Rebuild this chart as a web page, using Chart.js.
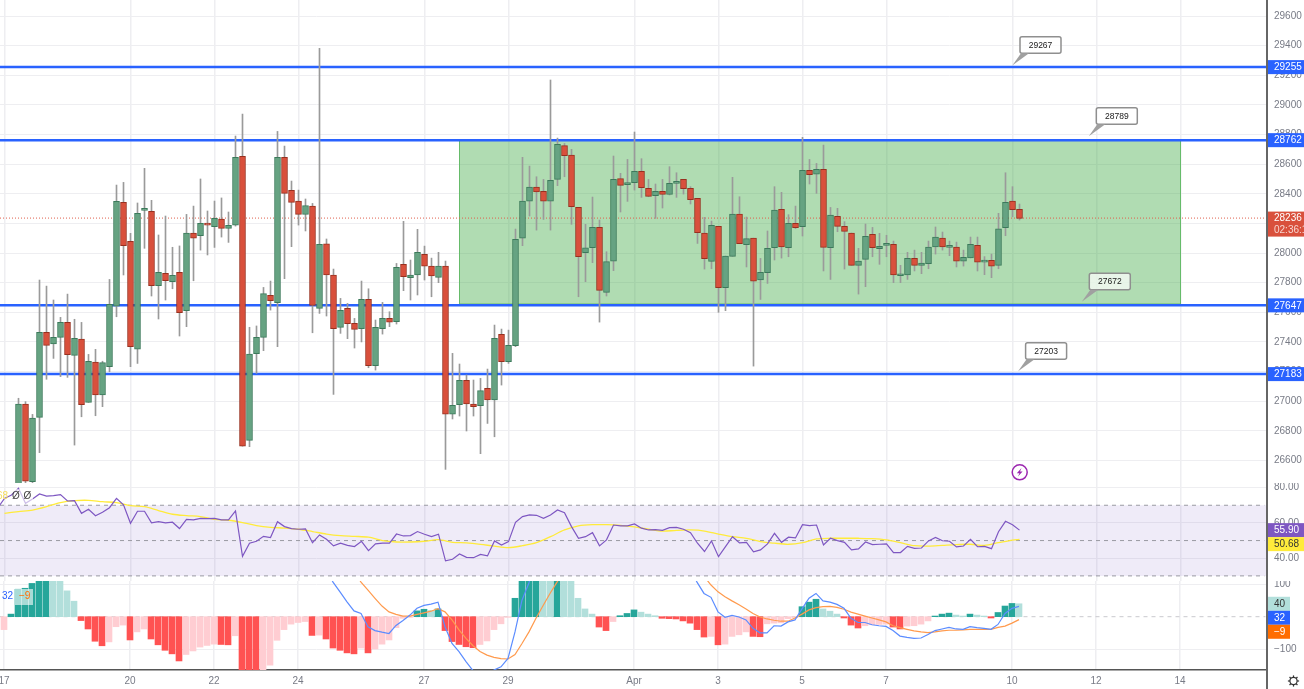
<!DOCTYPE html>
<html>
<head>
<meta charset="utf-8">
<style>
  html, body { margin: 0; padding: 0; background: #fff; overflow: hidden; }
  canvas { position: absolute; left: 0; }
  #axisLine { position: absolute; left: 1266px; top: 0; width: 1.5px; height: 689px; background: #666; }
</style>
<script src="https://cdn.jsdelivr.net/npm/chart.js@4"></script>
</head>
<body>
<canvas id="priceCanvas" width="1304" height="483" style="top:0"></canvas>
<canvas id="rsiCanvas" width="1304" height="98" style="top:483px"></canvas>
<canvas id="macdCanvas" width="1304" height="108" style="top:581px"></canvas>
<div id="axisLine"></div>
<script>
// candles are 4h bars, index 0 is the first one on screen
const opens = [26400,26981,26457,26891,27465,27386,27431,27532,27309,27420,
  26992,27264,27042,27233,27642,28342,28079,27352,28288,28281,
  27780,27863,27807,27870,27611,28135,28117,28200,28178,28230,
  28167,28189,28653,26736,27321,27431,27714,27665,28646,28423,
  28351,28261,28317,27627,28063,27852,27498,27627,27525,27490,
  27687,27240,27490,27559,27537,27924,27834,27852,27991,27912,
  27836,27912,26913,26977,27141,26981,26970,27087,27008,27451,
  27267,27375,28101,28351,28446,28416,28351,28497,28725,28662,
  28308,28002,28036,28173,27735,27946,28502,28461,28475,28551,
  28437,28387,28416,28396,28470,28497,28437,28369,28135,27944,
  28180,27766,27978,28263,28056,28101,27818,27867,28036,28295,
  28036,28200,28178,28558,28533,28565,28036,28248,28180,28135,
  27917,27957,28126,28029,28052,28059,27847,27852,27964,27917,
  27928,28041,28101,28038,28041,27946,27967,28052,27939,27951,
  27917,28171,28351,28295];
const closes = [26981,26460,26887,27465,27377,27431,27532,27314,27424,26977,
  27269,27042,27260,27654,28349,28050,27368,28268,28295,27780,
  27870,27814,27850,27597,28135,28101,28200,28189,28234,28167,
  28187,28646,26697,27318,27431,27726,27678,28646,28403,28342,
  28261,28320,27647,28059,27852,27490,27613,27523,27485,27687,
  27240,27498,27559,27534,27903,27841,27852,28005,27912,27845,
  27912,26913,26972,27141,26981,26963,27071,27008,27424,27267,
  27377,28093,28351,28446,28412,28351,28491,28734,28657,28313,
  27975,28036,28173,27748,27942,28497,28457,28475,28551,28441,
  28383,28416,28396,28470,28484,28434,28360,28137,27962,28187,
  27766,27980,28263,28063,28097,27811,27870,28032,28290,28041,
  28200,28171,28558,28529,28565,28038,28257,28180,28146,27917,
  27946,28113,28036,28045,28059,27852,27854,27964,27917,27933,
  28041,28108,28041,28048,27946,27971,28059,27939,27951,27912,
  28164,28342,28293,28234];
const highs = [27020,26997,26911,27818,27777,27683,27566,27723,27553,27532,
  27316,27350,27270,27822,28459,28477,28133,28338,28572,28356,
  28122,28250,28039,28048,28261,28317,28500,28284,28351,28372,
  28277,28790,28938,27499,27508,27768,27811,28821,28722,28486,
  28425,28365,28335,29382,28095,27892,27694,27660,27559,27811,
  27759,27548,27667,27604,27930,28214,27953,28160,28047,27966,
  28005,27946,27323,27251,27177,27143,27154,27217,27514,27487,
  27480,28162,28646,28587,28515,28497,29168,28776,28740,28700,
  28308,28194,28378,28223,28009,28655,28538,28632,28817,28637,
  28497,28466,28497,28583,28542,28497,28448,28369,28241,28216,
  28180,27980,28511,28380,28243,28101,27964,28149,28448,28410,
  28259,28317,28781,28632,28605,28729,28308,28302,28212,28135,
  28032,28196,28173,28133,28120,28081,27917,28005,28020,28005,
  28081,28176,28142,28081,28074,28020,28108,28108,27976,27993,
  28268,28542,28448,28331];
const lows = [26380,26430,26450,26653,27148,27289,27166,27161,26704,26895,
  26992,26902,26963,27199,27570,27852,27233,27255,28032,27710,
  27555,27683,27759,27440,27503,27813,28020,27987,28038,28108,
  28072,28182,26697,26693,27188,27341,27615,27368,27827,28043,
  28189,28149,27462,27593,27575,27046,27458,27422,27359,27400,
  27226,27210,27453,27503,27521,27746,27683,27717,27818,27705,
  27800,26540,26880,26900,26799,26900,26646,26850,26760,27109,
  27255,27368,28050,28250,28155,28227,28155,28455,28515,28194,
  27705,27807,27935,27534,27710,27881,28277,28349,28425,28376,
  28380,28234,28304,28392,28376,28398,28331,28065,27892,27894,
  27600,27611,27978,28063,27906,27237,27687,27795,27953,27966,
  27975,28165,28115,28466,28403,27879,27822,28144,27892,27917,
  27723,27773,27975,27924,27975,27800,27800,27822,27879,27861,
  27894,27993,28020,27982,27906,27912,27967,27879,27854,27834,
  27894,28117,28245,28223];

// horizontal levels, the callouts sitting on them and the green range box
const levelValues = [29255, 28762, 27647, 27183];
const calloutValues = [29267, 28789, 27672, 27203];
const calloutCandles = [142, 152.9, 151.9, 142.8];
const boxCandles = [63, 166];
const boxPrices = [28762, 27656];
const lastPrice = 28236;
const lastCountdown = "02:36:11";

// RSI starts at candle -3
const rsiStart = -3;
const rsiValues = [68.3,73.9,75.8,79.6,71.1,73.5,76.4,75.2,75.4,76.0,72.4,72.6,65.4,67.7,64.1,66.0,68.6,73.9,70.2,59.8,
  66.6,66.6,60.0,60.7,60.0,60.4,56.8,62.0,61.7,62.6,62.4,62.6,61.7,61.7,66.8,41.1,48.5,49.6,52.4,51.7,
  60.7,57.9,56.8,56.4,56.6,48.8,53.2,50.7,47.0,48.5,47.3,46.6,49.6,44.3,48.1,48.5,48.5,53.7,52.6,52.8,
  55.1,53.6,52.2,53.6,38.5,39.4,42.4,40.5,40.3,42.2,41.3,49.8,47.5,49.4,60.3,63.6,64.5,64.3,62.6,64.5,
  67.3,65.8,57.9,51.3,52.2,54.5,47.0,50.4,58.8,58.3,58.3,59.4,57.0,56.0,56.2,55.8,57.3,57.5,56.4,54.5,
  48.5,43.8,49.8,40.9,46.6,52.2,48.7,49.0,43.6,44.7,48.1,54.1,49.0,51.9,51.5,59.0,58.5,58.8,47.5,51.3,
  50.0,49.0,44.7,45.3,49.2,47.7,47.9,48.1,43.2,43.2,46.7,45.6,45.8,49.8,51.8,49.9,49.6,46.4,46.9,50.7,
  46.5,46.7,45.4,55.0,60.9,59.0,55.9];
// RSI average, read every second candle from -2
const rsiMaValues = [65.4,66.4,67.3,69.2,71.5,72.6,72.8,72.0,71.5,69.8,69.2,67.0,64.9,64.1,63.6,62.0,61.5,60.2,58.5,57.5,
  57.1,56.4,55.1,53.7,52.8,52.4,51.9,50.0,49.2,49.2,49.6,50.5,49.0,48.7,47.9,46.8,46.0,47.1,48.8,52.2,
  56.0,58.3,59.0,59.0,58.6,57.7,56.4,55.3,55.8,56.0,55.4,53.7,52.2,51.3,49.4,48.5,47.9,48.8,50.9,51.3,
  51.3,51.3,51.1,50.4,48.8,47.1,46.9,47.3,47.7,47.9,47.3,48.8,50.3];
const rsiMaLast = 50.68;
const rsiLevels = [70, 50, 30];
const rsiTicks = [80, 60, 40];

// MACD histogram starts at candle -2
const histStart = -2;
const histValues = [-40,8,85,88,103,118,120,115,110,80,48,-12,-38,-76,-90,-78,-31,-26,-72,-47,
  -38,-69,-87,-104,-115,-137,-117,-106,-94,-89,-85,-86,-87,-59,-170,-180,-190,-175,-150,-73,
  -40,-23,-18,-15,-58,-57,-69,-97,-104,-112,-115,-97,-112,-100,-85,-72,-34,-5,-2,18,
  23,19,24,-43,-77,-86,-93,-96,-86,-75,-40,-22,-2,57,130,150,170,160,140,150,
  130,110,57,24,8,-32,-43,-15,3,10,21,14,8,3,-5,-6,-7,-13,-20,-40,
  -63,-61,-87,-85,-61,-56,-47,-61,-62,-22,-20,-19,-6,-3,31,45,54,24,17,8,
  -4,-26,-35,-28,-25,-24,-23,-32,-38,-29,-28,-23,-13,2,8,11,5,2,8,5,
  2,-4,13,33,41,40];
// MACD line from candle 44, null where it is far above the pane
const macdStart = 44;
const macdValues = [150,107,77,46,18,10,-31,-43,-48,-52,-27,-12,5,26,35,39,45,-31,-83,-108,-139,-167,-190,-185,-165,-155,-129,-47,51,105,180,
  null,null,null,null,null,null,null,null,null,null,null,null,null,null,null,null,null,null,null,null,null,
  150,107,72,60,15,-2,4,-1,-10,-36,-50,-50,-28,-29,-16,-10,24,57,72,49,45,38,26,-5,-18,-18,-25,-28,-30,
  -43,-60,-64,-67,-66,-55,-43,-38,-33,-38,-39,-31,-34,-36,-39,-24,10,26,32];
// signal line from candle 48
const signalStart = 48;
const signalValues = [140,107,82,57,33,15,7,2,2,7,12,17,25,15,-10,-41,-67,-90,-108,-119,-126,-130,-131,-117,-83,-47,-5,34,72,107,145,
  null,null,null,null,null,null,null,null,null,null,null,null,null,null,null,null,null,null,null,
  125,98,77,62,49,37,24,10,-1,-7,-11,-14,-14,-4,8,21,28,31,32,29,23,14,8,2,-4,-10,
  -16,-28,-34,-39,-44,-47,-49,-47,-44,-42,-42,-41,-39,-39,-39,-39,-33,-29,-20,-9];
const macdTicks = [100, -100];

// axes
const dayTicks = [-2,16,28,40,58,70,88,100,112,124,142,154,166];
const dayLabels = ['17','20','22','24','27','29','Apr','3','5','7','10','12','14'];
const priceTicks = [26600,26800,27000,27200,27400,27600,27800,28000,28200,28400,28600,28800,29000,29200,29400,29600];

const UP = '#66a382', UP_EDGE = '#3c7a5b', DOWN = '#d9503c', DOWN_EDGE = '#98301f', WICK = '#9a9a9a';
const GRID = '#eeeef1', LABEL = '#787b86', BLUE = '#2962ff', ORANGE = '#ff6d00', PURPLE = '#7e57c2', YELLOW = '#ffeb3b';
const FONT = '"Liberation Sans", Arial, sans-serif';
const xMin = -18.5 / 7, xMax = (1266 - 18.5) / 7;

Chart.defaults.font.family = FONT;

function series(values, start, step) {
    return values.map((v, i) => ({ x: start + i * (step || 1), y: v }));
}

function xAxis(withLabels, shift) {
    return {
        type: 'linear',
        min: xMin + (shift || 0),
        max: xMax + (shift || 0),
        offset: false,
        afterBuildTicks: (s) => { s.ticks = dayTicks.map((v) => ({ value: v })); },
        afterFit: (s) => { s.height = withLabels ? 19 : 0; s.paddingLeft = 0; s.paddingRight = 0; },
        grid: { color: GRID, lineWidth: 1.5, drawTicks: false, offset: false },
        border: withLabels ? { display: true, color: '#555', width: 1.5 } : { display: false },
        ticks: {
            display: withLabels,
            autoSkip: false,
            maxRotation: 0,
            padding: 5,
            color: LABEL,
            font: { size: 10 },
            callback: (v) => dayLabels[dayTicks.indexOf(v)]
        }
    };
}

function yAxis(min, max, tickValues, fmt) {
    return {
        type: 'linear',
        position: 'right',
        min: min,
        max: max,
        afterBuildTicks: (s) => { s.ticks = tickValues.map((v) => ({ value: v })); },
        afterFit: (s) => { s.width = 38; s.paddingTop = 0; s.paddingBottom = 0; },
        grid: { color: GRID, lineWidth: 1, drawTicks: false },
        border: { display: false },
        ticks: { padding: 8, color: LABEL, font: { size: 10 }, callback: fmt }
    };
}

function baseOptions(scales) {
    return {
        responsive: false,
        animation: false,
        layout: { padding: 0, autoPadding: false },
        plugins: { legend: { display: false }, tooltip: { enabled: false } },
        elements: { point: { radius: 0 } },
        events: [],
        scales: scales
    };
}

function tag(ctx, y, right, bg, fg, text, height) {
    const h = height || 14;
    ctx.fillStyle = bg;
    ctx.fillRect(1267, y - h / 2, right - 1267, h);
    ctx.fillStyle = fg;
    ctx.font = '10px ' + FONT;
    ctx.textAlign = 'left';
    ctx.textBaseline = 'middle';
    ctx.fillText(text, 1274, y + 0.5);
}

function callout(ctx, x, y, text) {
    const left = x + 7.5, top = y - 28.5, w = 41, h = 16.5;
    ctx.strokeStyle = '#8f8f8f';
    ctx.lineWidth = 1.5;
    ctx.fillStyle = 'rgba(255,255,255,0.72)';
    ctx.beginPath();
    ctx.roundRect(left, top, w, h, 2);
    ctx.fill();
    ctx.stroke();
    ctx.fillStyle = '#a0a0a0';
    ctx.beginPath();
    ctx.moveTo(x, y);
    ctx.lineTo(left + 1, top + h);
    ctx.lineTo(left + 9, top + h);
    ctx.closePath();
    ctx.fill();
    ctx.fillStyle = '#1a1a1a';
    ctx.font = '8.5px ' + FONT;
    ctx.textAlign = 'center';
    ctx.textBaseline = 'middle';
    ctx.fillText(text, left + w / 2, top + h / 2 + 0.5);
}

const priceOverlay = {
    id: 'priceOverlay',
    afterDraw(chart) {
        const ctx = chart.ctx, xs = chart.scales.x, ys = chart.scales.y;
        ctx.save();
        calloutValues.forEach((v, i) => {
            callout(ctx, xs.getPixelForValue(calloutCandles[i]), ys.getPixelForValue(v), String(v));
        });
        levelValues.forEach((v) => tag(ctx, ys.getPixelForValue(v), 1304, BLUE, '#fff', String(v)));
        // last price with countdown
        const y = ys.getPixelForValue(lastPrice);
        ctx.fillStyle = DOWN;
        ctx.fillRect(1267, y - 6.5, 37, 25);
        ctx.fillStyle = '#fff';
        ctx.font = '10px ' + FONT;
        ctx.textAlign = 'left';
        ctx.textBaseline = 'middle';
        ctx.fillText(String(lastPrice), 1274, y + 0.5);
        ctx.fillStyle = '#f6d5cf';
        ctx.fillText(lastCountdown, 1274, y + 12);
        // lightning badge
        ctx.strokeStyle = '#9c27b0';
        ctx.lineWidth = 1.5;
        ctx.beginPath();
        ctx.arc(1019.7, 472.3, 7.5, 0, Math.PI * 2);
        ctx.stroke();
        ctx.fillStyle = '#9c27b0';
        ctx.beginPath();
        ctx.moveTo(1021.5, 468);
        ctx.lineTo(1016.8, 473.2);
        ctx.lineTo(1019.4, 473.2);
        ctx.lineTo(1018, 476.6);
        ctx.lineTo(1022.6, 471.4);
        ctx.lineTo(1020, 471.4);
        ctx.closePath();
        ctx.fill();
        ctx.restore();
    }
};

const rsiOverlay = {
    id: 'rsiOverlay',
    afterDraw(chart) {
        const ctx = chart.ctx, ys = chart.scales.y;
        ctx.save();
        const y = ys.getPixelForValue(rsiValues[rsiValues.length - 1]);
        tag(ctx, y, 1304, PURPLE, '#fff', rsiValues[rsiValues.length - 1].toFixed(2));
        tag(ctx, y + 14, 1304, YELLOW, '#333', rsiMaLast.toFixed(2));
        // pane legend, cut by the left edge
        ctx.fillStyle = 'rgba(255,255,255,0.62)';
        ctx.fillRect(14, 6, 19, 15);
        ctx.font = '10px ' + FONT;
        ctx.textBaseline = 'middle';
        ctx.textAlign = 'right';
        ctx.fillStyle = '#f5dc5a';
        ctx.fillText(rsiMaLast.toFixed(2), 8, 13.5);
        ctx.textAlign = 'left';
        ctx.fillStyle = '#444';
        ctx.fillText('Ø', 12, 13.5);
        ctx.fillText('Ø', 23.5, 13.5);
        ctx.restore();
    }
};

const macdOverlay = {
    id: 'macdOverlay',
    afterDraw(chart) {
        const ctx = chart.ctx, ys = chart.scales.y;
        const lastHist = 40, lastMacd = 32, lastSignal = -9;
        ctx.save();
        const y = ys.getPixelForValue(lastHist);
        tag(ctx, y, 1290, '#b2dfdb', '#333', String(lastHist));
        tag(ctx, y + 14, 1290, BLUE, '#fff', String(lastMacd));
        tag(ctx, y + 28, 1290, ORANGE, '#fff', '\u2212' + Math.abs(lastSignal));
        // pane legend
        ctx.fillStyle = 'rgba(255,255,255,0.6)';
        ctx.fillRect(15, 8, 18, 16);
        ctx.font = '10px ' + FONT;
        ctx.textBaseline = 'middle';
        ctx.textAlign = 'left';
        ctx.fillStyle = BLUE;
        ctx.fillText(String(lastMacd), 2, 15.5);
        ctx.fillStyle = ORANGE;
        ctx.fillText('\u2212' + Math.abs(lastSignal), 19, 15.5);
        // settings gear under the axis
        ctx.strokeStyle = '#333';
        ctx.lineWidth = 1.2;
        ctx.beginPath();
        ctx.arc(1293.5, 100, 3.6, 0, Math.PI * 2);
        ctx.stroke();
        for (let a = 0; a < 8; a++) {
            const c = Math.cos(a * Math.PI / 4), s = Math.sin(a * Math.PI / 4);
            ctx.beginPath();
            ctx.moveTo(1293.5 + c * 3.6, 100 + s * 3.6);
            ctx.lineTo(1293.5 + c * 5.6, 100 + s * 5.6);
            ctx.stroke();
        }
        ctx.restore();
    }
};

new Chart(document.getElementById('priceCanvas'), {
    type: 'bar',
    plugins: [priceOverlay],
    data: {
        datasets: [
            {
                data: opens.map((o, i) => ({ x: i, y: [o, closes[i]] })),
                grouped: false,
                barThickness: 6,
                minBarLength: 2,
                borderWidth: 1,
                borderSkipped: false,
                backgroundColor: opens.map((o, i) => (closes[i] >= o ? UP : DOWN)),
                borderColor: opens.map((o, i) => (closes[i] >= o ? UP_EDGE : DOWN_EDGE)),
                order: 1
            },
            {
                data: lows.map((l, i) => ({ x: i, y: [l, highs[i]] })),
                grouped: false,
                barThickness: 1,
                borderWidth: 0,
                backgroundColor: WICK,
                order: 2
            },
            ...levelValues.map((v) => ({
                type: 'line',
                data: [{ x: xMin, y: v }, { x: xMax, y: v }],
                borderColor: BLUE,
                borderWidth: 2.5,
                order: 4
            })),
            {
                type: 'line',
                data: [{ x: xMin, y: lastPrice }, { x: xMax, y: lastPrice }],
                borderColor: '#e0604c',
                borderWidth: 1,
                borderDash: [1, 2],
                order: 3
            },
            {
                type: 'line',
                data: [
                    { x: boxCandles[0], y: boxPrices[0] },
                    { x: boxCandles[1], y: boxPrices[0] },
                    { x: boxCandles[1], y: boxPrices[1] },
                    { x: boxCandles[0], y: boxPrices[1] },
                    { x: boxCandles[0], y: boxPrices[0] }
                ],
                borderColor: '#66bb6a',
                borderWidth: 1,
                backgroundColor: 'rgba(76,175,80,0.44)',
                fill: 'shape',
                order: 5
            }
        ]
    },
    options: baseOptions({
        x: xAxis(false),
        y: yAxis(26448, 29708, priceTicks, (v) => String(v))
    })
});

new Chart(document.getElementById('rsiCanvas'), {
    type: 'line',
    plugins: [rsiOverlay],
    data: {
        datasets: [
            {
                data: series(rsiValues, rsiStart),
                borderColor: PURPLE,
                borderWidth: 1.2,
                order: 1
            },
            {
                data: series(rsiMaValues.concat([rsiMaLast]), -2, 2).map((p, i) => (i === rsiMaValues.length ? { x: 143, y: p.y } : p)),
                borderColor: YELLOW,
                borderWidth: 1.3,
                tension: 0.3,
                order: 2
            },
            ...rsiLevels.map((v) => ({
                data: [{ x: xMin, y: v }, { x: xMax - 0.25, y: v }],
                borderColor: '#9a9aa2',
                borderWidth: 1,
                borderDash: [4, 4],
                order: 3
            })),
            {
                data: [{ x: xMin, y: rsiLevels[0] }, { x: xMax, y: rsiLevels[0] }],
                borderWidth: 0,
                borderColor: 'transparent',
                backgroundColor: 'rgba(126,87,194,0.12)',
                fill: { value: rsiLevels[2] },
                order: 4
            }
        ]
    },
    options: baseOptions({
        x: xAxis(false),
        y: yAxis(27.1, 82.6, rsiTicks, (v) => v.toFixed(2))
    })
});

new Chart(document.getElementById('macdCanvas'), {
    type: 'bar',
    plugins: [macdOverlay],
    data: {
        datasets: [
            {
                type: 'line',
                data: series(macdValues, macdStart),
                borderColor: '#5b8cff',
                borderWidth: 1.2,
                spanGaps: false,
                order: 1
            },
            {
                type: 'line',
                data: series(signalValues, signalStart),
                borderColor: '#ff9a4d',
                borderWidth: 1.2,
                spanGaps: false,
                order: 2
            },
            {
                data: series(histValues, histStart),
                barThickness: 6,
                grouped: false,
                backgroundColor: histValues.map((v, i) => {
                    const rising = i === 0 || v > histValues[i - 1];
                    if (v >= 0) return rising ? '#26a69a' : '#b2dfdb';
                    return rising ? '#ffcdd2' : '#ff5252';
                }),
                order: 3
            },
            {
                type: 'line',
                data: [{ x: xMin, y: 0 }, { x: xMax, y: 0 }],
                borderColor: '#c9c9ce',
                borderWidth: 1,
                borderDash: [4, 4],
                order: 4
            }
        ]
    },
    options: baseOptions({
        x: xAxis(true, 0.0714),
        y: yAxis(-165, 110.5, macdTicks, (v) => (v < 0 ? '\u2212' + Math.abs(v) : String(v)))
    })
});
</script>
</body>
</html>
